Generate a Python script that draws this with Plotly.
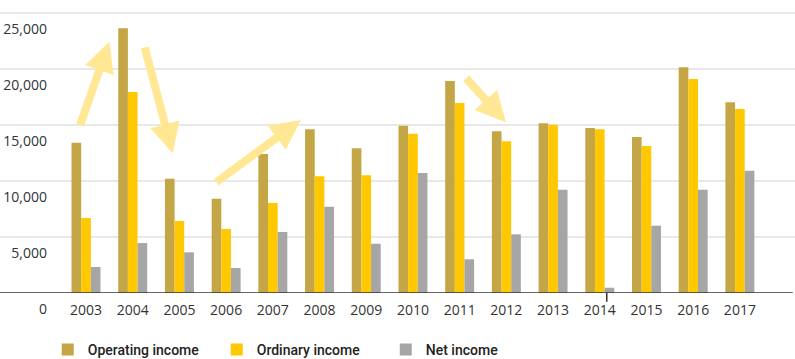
import plotly.graph_objects as go

years = ["2003", "2004", "2005", "2006", "2007", "2008", "2009", "2010",
         "2011", "2012", "2013", "2014", "2015", "2016", "2017"]
operating_income = [13420, 23640, 10210, 8420, 12410, 14610, 12920, 14940,
                    18930, 14440, 15150, 14730, 13930, 20150, 17030]
ordinary_income = [6700, 17950, 6430, 5710, 8040, 10420, 10510, 14220,
                   16960, 13540, 15030, 14610, 13130, 19110, 16430]
net_income = [2320, 4460, 3630, 2230, 5450, 7710, 4400, 10710,
              3010, 5240, 9220, 470, 6010, 9220, 10920]
y_tickvals = [0, 5000, 10000, 15000, 20000, 25000]
y_ticktext = ["0", "5,000", "10,000", "15,000", "20,000", "25,000"]

W, H = 795, 359
ML, MR, MT, MB = 50, 0, 0, 66
plot_w = W - ML - MR

C_OP = "#C4A646"
C_ORD = "#FFC800"
C_NET = "#A6A6A6"
C_ARROW = "#FFE793"

fig = go.Figure()
fig.add_trace(go.Bar(name="Operating income", x=years, y=operating_income,
                     marker=dict(color=C_OP, line=dict(width=0))))
fig.add_trace(go.Bar(name="Ordinary income", x=years, y=ordinary_income,
                     marker=dict(color=C_ORD, line=dict(width=0))))
fig.add_trace(go.Bar(name="Net income", x=years, y=net_income,
                     marker=dict(color=C_NET, line=dict(width=0))))

# gridlines spanning the full width (including under the tick labels)
shapes = []
left_paper = -ML / plot_w
for v in y_tickvals[1:]:
    shapes.append(dict(type="line", xref="paper", yref="y", x0=left_paper, x1=1,
                       y0=v, y1=v, line=dict(color="#E8E8E8", width=2), layer="below"))
shapes.append(dict(type="line", xref="paper", yref="y", x0=left_paper, x1=0.997,
                   y0=0, y1=0, line=dict(color="#333333", width=1.5), layer="above"))
# small tick under 2014
shapes.append(dict(type="line", xref="x", yref="paper", x0=11.15, x1=11.15,
                   y0=0, y1=-0.03, line=dict(color="#333333", width=1.5)))

# trend arrows (tip at x,y ; tail at ax,ay)
arrows = [
    (0.50, 22440, -0.14, 14840),
    (1.856, 12470, 1.248, 22050),
    (4.60, 15450, 2.76, 9800),
    (8.99, 15240, 8.11, 19310),
]
annotations = []
for x, y, ax, ay in arrows:
    annotations.append(dict(x=x, y=y, ax=ax, ay=ay, xref="x", yref="y",
                            axref="x", ayref="y", text="", showarrow=True,
                            arrowhead=2, arrowsize=0.75, arrowwidth=8,
                            arrowcolor=C_ARROW, standoff=0, startstandoff=0))

fig.update_layout(
    width=W, height=H,
    margin=dict(l=ML, r=MR, t=MT, b=MB, autoexpand=False),
    paper_bgcolor="white", plot_bgcolor="white",
    barmode="group", bargap=0.38, bargroupgap=0,
    font=dict(family="Open Sans", size=14, color="#333333"),
    shapes=shapes, annotations=annotations,
    showlegend=True,
    legend=dict(orientation="h", x=-0.003, xanchor="left", y=-0.14, yanchor="top",
                font=dict(family="Roboto", size=14, color="#222222", weight=500),
                entrywidth=124, entrywidthmode="pixels",
                itemclick=False, traceorder="normal"),
)
fig.update_xaxes(type="category", range=[-0.771, 15.18], showgrid=False,
                 showline=False, ticks="", zeroline=False, automargin=False,
                 ticklabelstandoff=7,
                 tickfont=dict(family="Open Sans", size=14, color="#333333"))
fig.update_yaxes(range=[0, 26160], tickvals=y_tickvals, ticktext=y_ticktext,
                 showgrid=False, zeroline=False, showline=False, ticks="",
                 automargin=False, ticklabelshift=16, ticklabelstandoff=2,
                 tickfont=dict(family="Open Sans", size=14, color="#333333"))

fig.write_html("out.html", config={"displayModeBar": False},
               post_script="document.body.style.margin='0';")
